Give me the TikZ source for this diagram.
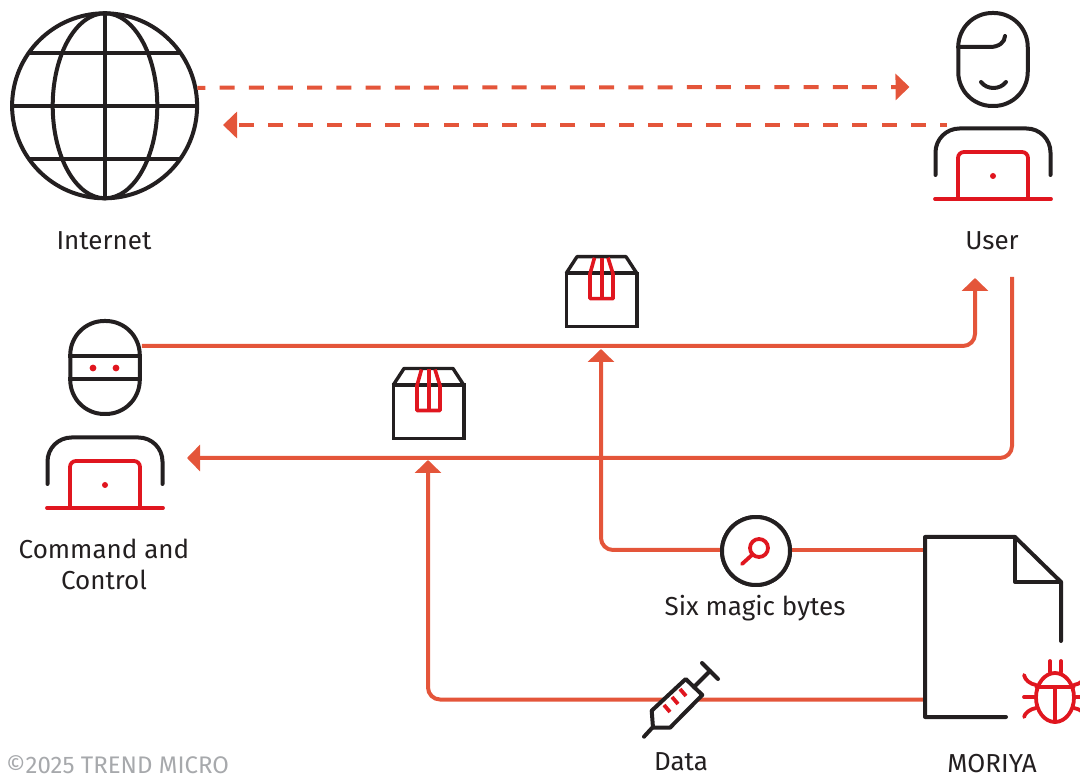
\documentclass[tikz,border=0pt]{standalone}
\usepackage{fontspec}
\setmainfont{Fira Sans}
\usetikzlibrary{arrows.meta,shapes.geometric}
\definecolor{inkk}{HTML}{231F20}
\definecolor{redd}{HTML}{E0161F}
\definecolor{flow}{HTML}{E4553A}
\definecolor{copyc}{HTML}{A7A9AC}
\tikzset{
  x=1pt,y=-1pt,
  ink/.style={draw=inkk,line width=4pt,line cap=round,line join=round},
  redline/.style={draw=redd,line width=3.8pt,line cap=round,line join=round},
  flowline/.style={draw=flow,line width=4pt,rounded corners=12pt,-{Triangle[length=13pt,width=26pt]}},
  flowplain/.style={draw=flow,line width=4pt},
  dashline/.style={draw=flow,line width=4pt,-{Triangle[length=14pt,width=26pt]}},
  lbl/.style={font=\fontsize{26}{31}\selectfont,text=inkk,inner sep=0pt},
  head/.style={ink,rectangle,rounded corners=34pt,minimum width=69.5pt,minimum height=93pt,inner sep=0pt},
  ring/.style={ink,circle,inner sep=0pt,fill=white},
  pics/person/.style={code={
    \draw[ink,rounded corners=24pt] (-57.5,23) -- (-57.5,-23.5) -- (57.5,-23.5) -- (57.5,23);
    \draw[redline,rounded corners=6pt] (-35,47) -- (-35,0) -- (35,0) -- (35,47);
    \draw[redline] (-58,47) -- (58,47);
    \fill[redd] (0,24) circle[radius=3];
  }},
  pics/parcel/.style={code={
    \draw[ink,line width=3.4pt,line join=miter] (-34.8,16.6) -- (-34.8,70) -- (35.8,70) -- (35.8,16.6) -- cycle;
    \draw[ink,line width=3.4pt,line cap=butt] (-34.8,16.6) -- (-24,0) -- (25,0) -- (35.8,16.6);
    \draw[ink,line cap=butt] (-34.8,16.6) -- (35.8,16.6);
    \draw[redd,line width=3.6pt,line join=round] (-6.5,1) -- (-11,17) -- (-11,42) -- (12,42) -- (12,17) -- (7,1);
    \draw[redd,line width=3.6pt] (0.7,1) -- (0.7,42);
  }}
}
\begin{document}
\begin{tikzpicture}
\useasboundingbox (0,0) rectangle (1080,775);
\clip (0,0) rectangle (1080,775);

% free ends of the connectors
\coordinate (userIn) at (909.5,87);
\coordinate (userOut) at (947,125);
\coordinate (netIn) at (223,125);
\coordinate (userBottomIn) at (975,278);
\coordinate (userBottomOut) at (1012,277);
\coordinate (ccIn) at (187,458);
\coordinate (parcelAIn) at (601,349);
\coordinate (parcelBIn) at (428,460);
\coordinate (docA) at (925,550);
\coordinate (docB) at (925,699.5);

% connectors, below the icons
\node[ring,minimum size=185pt] (globe) at (104.6,105.8) {};
\node[head] (ccHead) at (105,367.5) {};
\node[head] (userHead) at (993,59.5) {};
\draw[flowline] (ccHead.east |- 0,346) -- (975,346) -- (userBottomIn);
\draw[flowline] (userBottomOut) -- (1012,458) -- (ccIn);
\draw[flowplain] (docA) -- (780,550);
\draw[flowline] (docB) -- (428,699.5) -- (parcelBIn);
\draw[dashline,dash pattern=on 15pt off 14.2pt,dash phase=7pt] (globe.11.7) -- (userIn);
\draw[dashline,dash pattern=on 15pt off 14.2pt,dash phase=8pt] (userOut) -- (netIn);

% magnifier
\node[ring,minimum size=68pt] (mag) at (756,551) {};
\draw[flowline] (mag.west |- 0,550) -- (601,550) -- (parcelAIn);
\node[ring,minimum size=68pt] (magc) at (756,551) {};
\draw[redline] (759,548) circle[radius=9];
\draw[redline] (752.5,554.5) -- (742,564);

% globe
\draw[ink] (105,105.8) ellipse[x radius=52.3,y radius=92.5];
\draw[ink,line cap=butt] (globe.north) -- (globe.south);
\draw[ink,line cap=butt] (globe.west) -- (globe.east);
\draw[ink,line cap=butt] (30,53) -- (180,53);
\draw[ink,line cap=butt] (30,159) -- (180,159);

% user
\draw[ink] (958,47) -- (990,47) .. controls (999,47) and (1005,42) .. (1005,36);
\draw[ink] (981,82) .. controls (987,90) and (1000,90) .. (1006,82);
\pic at (993,152) {person};

% command and control
\draw[ink,line cap=butt] (ccHead.west |- 0,356) -- (ccHead.east |- 0,356);
\draw[ink,line cap=butt] (ccHead.west |- 0,379) -- (ccHead.east |- 0,379);
\fill[redd] (93,368) circle[radius=3.4];
\fill[redd] (116,368) circle[radius=3.4];
\pic at (105,461) {person};

% parcels
\pic at (601,256.7) {parcel};
\pic at (428,368.5) {parcel};

% document
\draw[ink] (1006,717) -- (925,717) -- (925,537) -- (1015,537) -- (1061,582) -- (1061,641);
\draw[ink] (1015,537) -- (1015,582) -- (1061,582);

% bug
\draw[redline] (1055,697.5) ellipse[x radius=19,y radius=24.5];
\draw[redline] (1036.5,687) -- (1073.5,687);
\draw[redline] (1055,687) -- (1055,722);
\draw[redline] (1050,661) -- (1050,672);
\draw[redline] (1061,661) -- (1061,672);
\draw[redline] (1024,675) .. controls (1025,680) and (1030,684) .. (1036,685);
\draw[redline] (1024,697) -- (1036,697);
\draw[redline] (1024,717) .. controls (1025,713) and (1030,709) .. (1036,708);
\draw[redline] (1086,675) .. controls (1085,680) and (1080,684) .. (1074,685);
\draw[redline] (1086,697) -- (1074,697);
\draw[redline] (1086,717) .. controls (1085,713) and (1080,709) .. (1074,708);

% syringe
\draw[ink,fill=white] (685.7,679) -- (702.3,695) -- (670,727.7) -- (653,727.7) -- (651.7,710.7) -- cycle;
\draw[ink] (702,663) -- (718,679);
\draw[ink] (710,671) -- (694,687);
\draw[ink] (652,728) -- (644,736.7);
\draw[redline,line cap=butt] (680,689) -- (686,696);
\draw[redline,line cap=butt] (672,697) -- (678,704);
\draw[redline,line cap=butt] (664,705) -- (670,712);

% labels
\node[lbl] (tInternet) at (104,241) {Internet};
\node[lbl] (tUser) at (992,240.5) {User};
\node[lbl,align=center] (tCC) at (104,564) {Command and\\Control};
\node[lbl] (tMagic) at (755,608.5) {Six magic bytes};
\node[lbl] (tData) at (681,761.5) {Data};
\node[lbl] (tMoriya) at (992,764) {MORIYA};
\node[lbl,font=\fontsize{24}{28}\selectfont,text=copyc,anchor=west] (tCopy) at (6,765) {©2025 TREND MICRO};
\end{tikzpicture}
\end{document}
